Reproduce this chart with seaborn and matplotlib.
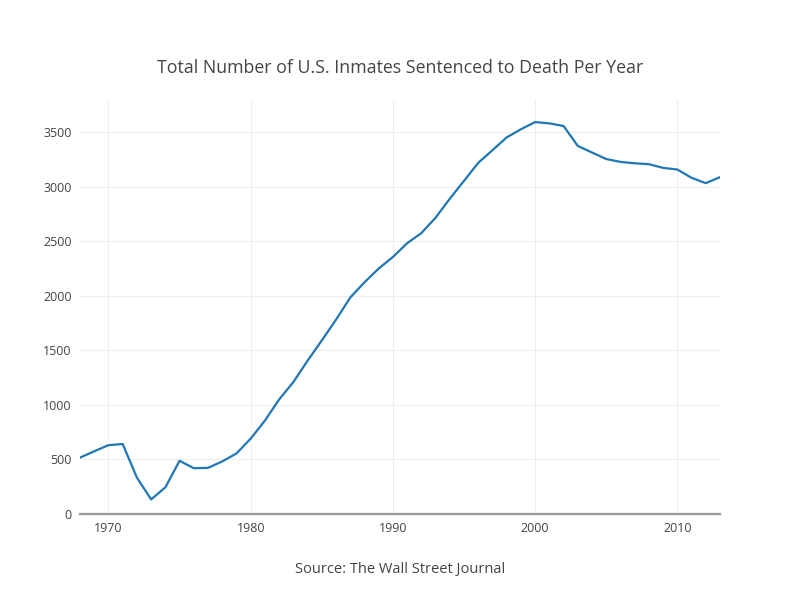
import seaborn as sns
import matplotlib.pyplot as plt
import pandas as pd

years = list(range(1968, 2014))
inmates = [517, 575, 631, 642, 334, 134, 244, 488, 420, 423, 482, 555,
           691, 856, 1050, 1209, 1405, 1591, 1781, 1984, 2124, 2250,
           2356, 2482, 2575, 2716, 2890, 3054, 3219, 3335, 3452, 3527,
           3593, 3581, 3557, 3374, 3314, 3254, 3228, 3215, 3207, 3173,
           3158, 3082, 3033, 3088]

df = pd.DataFrame({'Year': years, 'Inmates': inmates})

sns.set_theme(style="white")
plt.rcParams['font.family'] = ['Open Sans', 'DejaVu Sans']

fig = plt.figure(figsize=(8, 6), dpi=100)
ax = fig.add_axes([0.1, 0.1433, 0.8, 0.69])

sns.lineplot(data=df, x='Year', y='Inmates', color='#1f77b4', linewidth=1.6, ax=ax)

ax.set_xlim(1968, 2013)
ax.set_ylim(0, 3795)
ax.set_xticks([1970, 1980, 1990, 2000, 2010])
ax.set_yticks([0, 500, 1000, 1500, 2000, 2500, 3000, 3500])
ax.grid(True, color='#eeeeee', linewidth=0.8)
ax.set_axisbelow(True)
for s in ['top', 'right', 'left']:
    ax.spines[s].set_visible(False)
ax.spines['bottom'].set_color('#999999')
ax.spines['bottom'].set_linewidth(1.6)
ax.tick_params(axis='both', length=0, labelsize=9, colors='#444444', pad=6)

ax.set_ylabel('')
ax.set_xlabel('Source: The Wall Street Journal', fontsize=10.5, color='#444444', labelpad=19)
fig.suptitle('Total Number of U.S. Inmates Sentenced to Death Per Year',
             fontsize=12.8, color='#444444', y=0.902)

fig.savefig('out.png', dpi=100)
